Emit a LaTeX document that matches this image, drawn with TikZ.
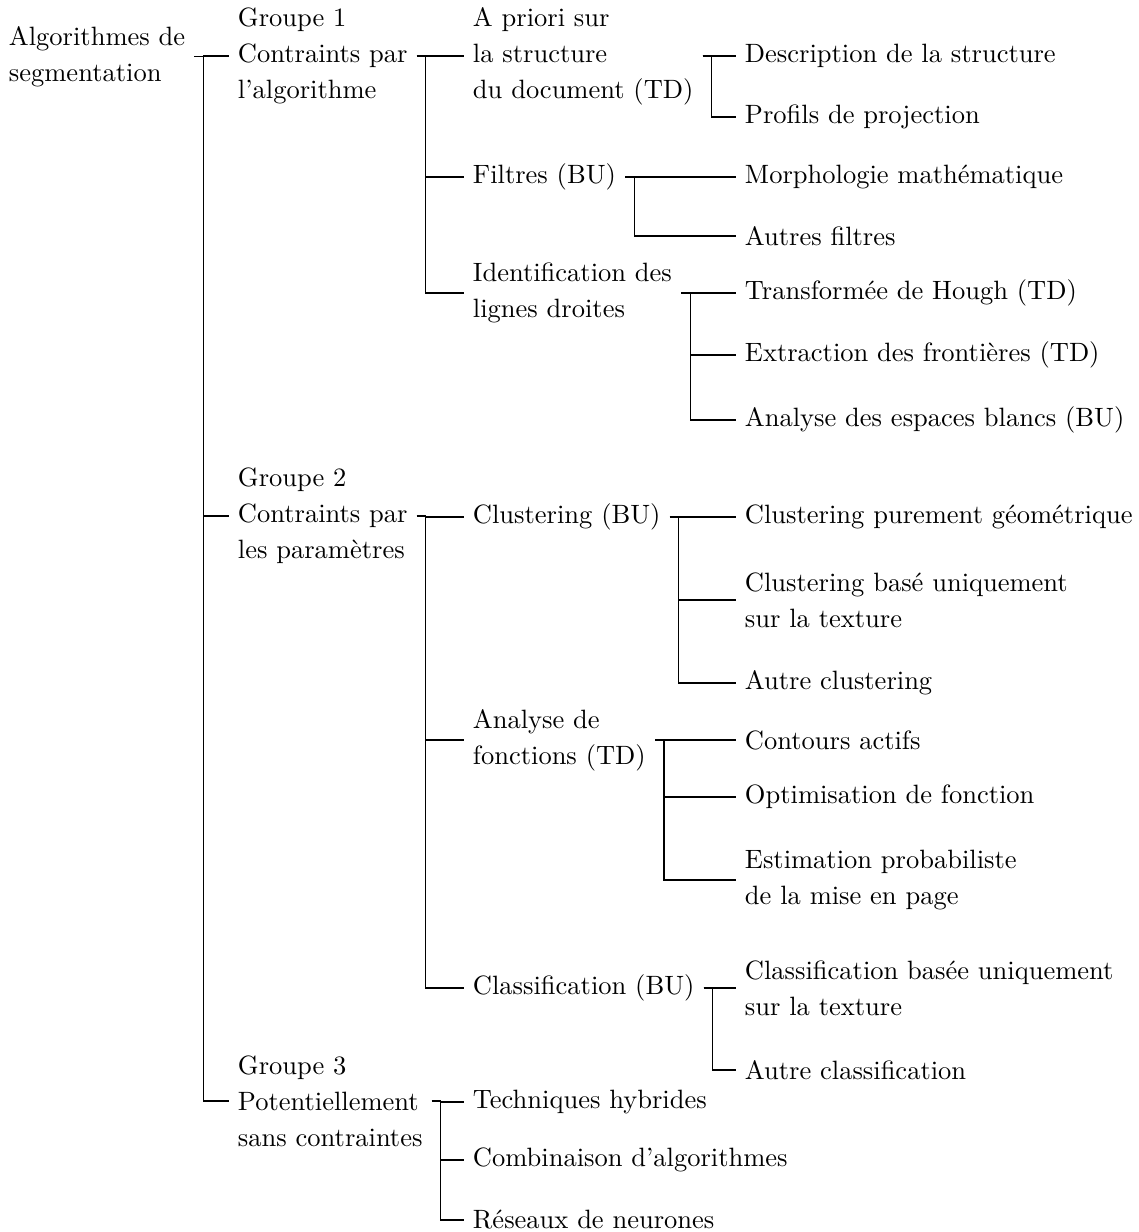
\documentclass[tikz,border=0pt]{standalone}
\usepackage{fontspec}
\newcommand\forkto[2]{\draw[link] (#1.east) -- ++(9,0) |- (#2.west);}
\begin{document}
\begin{tikzpicture}[x=0.3774pt,y=-0.3774pt,
  every node/.style={font=\fontsize{10pt}{13.6pt}\selectfont, align=left, anchor=west,
    inner xsep=3.5pt, inner ysep=0pt, outer sep=0pt},
  link/.style={line width=0.45pt}]
\useasboundingbox (0,0) rectangle (1138,1232);
% level 0
\node (root) at (-0.3,56.5) {Algorithmes de\\segmentation};
% level 1
\node (g1) at (228.7,56) {Groupe 1\\Contraints par\\l'algorithme};
\node (g2) at (228.7,516) {Groupe 2\\Contraints par\\les paramètres};
\node (g3) at (228.7,1101) {Groupe 3\\Potentiellement\\sans contraintes};
% level 2
\node (a1) at (463.7,56) {A priori sur\\la structure\\du document (TD)};
\node (a2) at (463.7,177) {Filtres (BU)};
\node (a3) at (463.7,293) {Identification des\\lignes droites};
\node (b1) at (463.7,517) {Clustering (BU)};
\node (b2) at (463.7,740) {Analyse de\\fonctions (TD)};
\node (b3) at (463.7,988) {Classification (BU)};
\node (c1) at (463.7,1102) {Techniques hybrides};
\node (c2) at (463.7,1160) {Combinaison d'algorithmes};
\node (c3) at (463.7,1220) {Réseaux de neurones};
% level 3
\node (a11) at (735.7,56) {Description de la structure};
\node (a12) at (735.7,117) {Profils de projection};
\node (a21) at (735.7,177) {Morphologie mathématique};
\node (a22) at (735.7,236) {Autres filtres};
\node (a31) at (735.7,293) {Transformée de Hough (TD)};
\node (a32) at (735.7,355) {Extraction des frontières (TD)};
\node (a33) at (735.7,420) {Analyse des espaces blancs (BU)};
\node (b11) at (735.7,517) {Clustering purement géométrique};
\node (b12) at (735.7,600) {Clustering basé uniquement\\sur la texture};
\node (b13) at (735.7,683) {Autre clustering};
\node (b21) at (735.7,740) {Contours actifs};
\node (b22) at (735.7,797) {Optimisation de fonction};
\node (b23) at (735.7,880) {Estimation probabiliste\\de la mise en page};
\node (b31) at (735.7,988) {Classification basée uniquement\\sur la texture};
\node (b32) at (735.7,1070) {Autre classification};
% edges
\forkto{root}{g1}\forkto{root}{g2}\forkto{root}{g3}
\forkto{g1}{a1}\forkto{g1}{a2}\forkto{g1}{a3}
\forkto{g2}{b1}\forkto{g2}{b2}\forkto{g2}{b3}
\forkto{g3}{c1}\forkto{g3}{c2}\forkto{g3}{c3}
\forkto{a1}{a11}\forkto{a1}{a12}
\forkto{a2}{a21}\forkto{a2}{a22}
\forkto{a3}{a31}\forkto{a3}{a32}\forkto{a3}{a33}
\forkto{b1}{b11}\forkto{b1}{b12}\forkto{b1}{b13}
\forkto{b2}{b21}\forkto{b2}{b22}\forkto{b2}{b23}
\forkto{b3}{b31}\forkto{b3}{b32}
\end{tikzpicture}
\end{document}
